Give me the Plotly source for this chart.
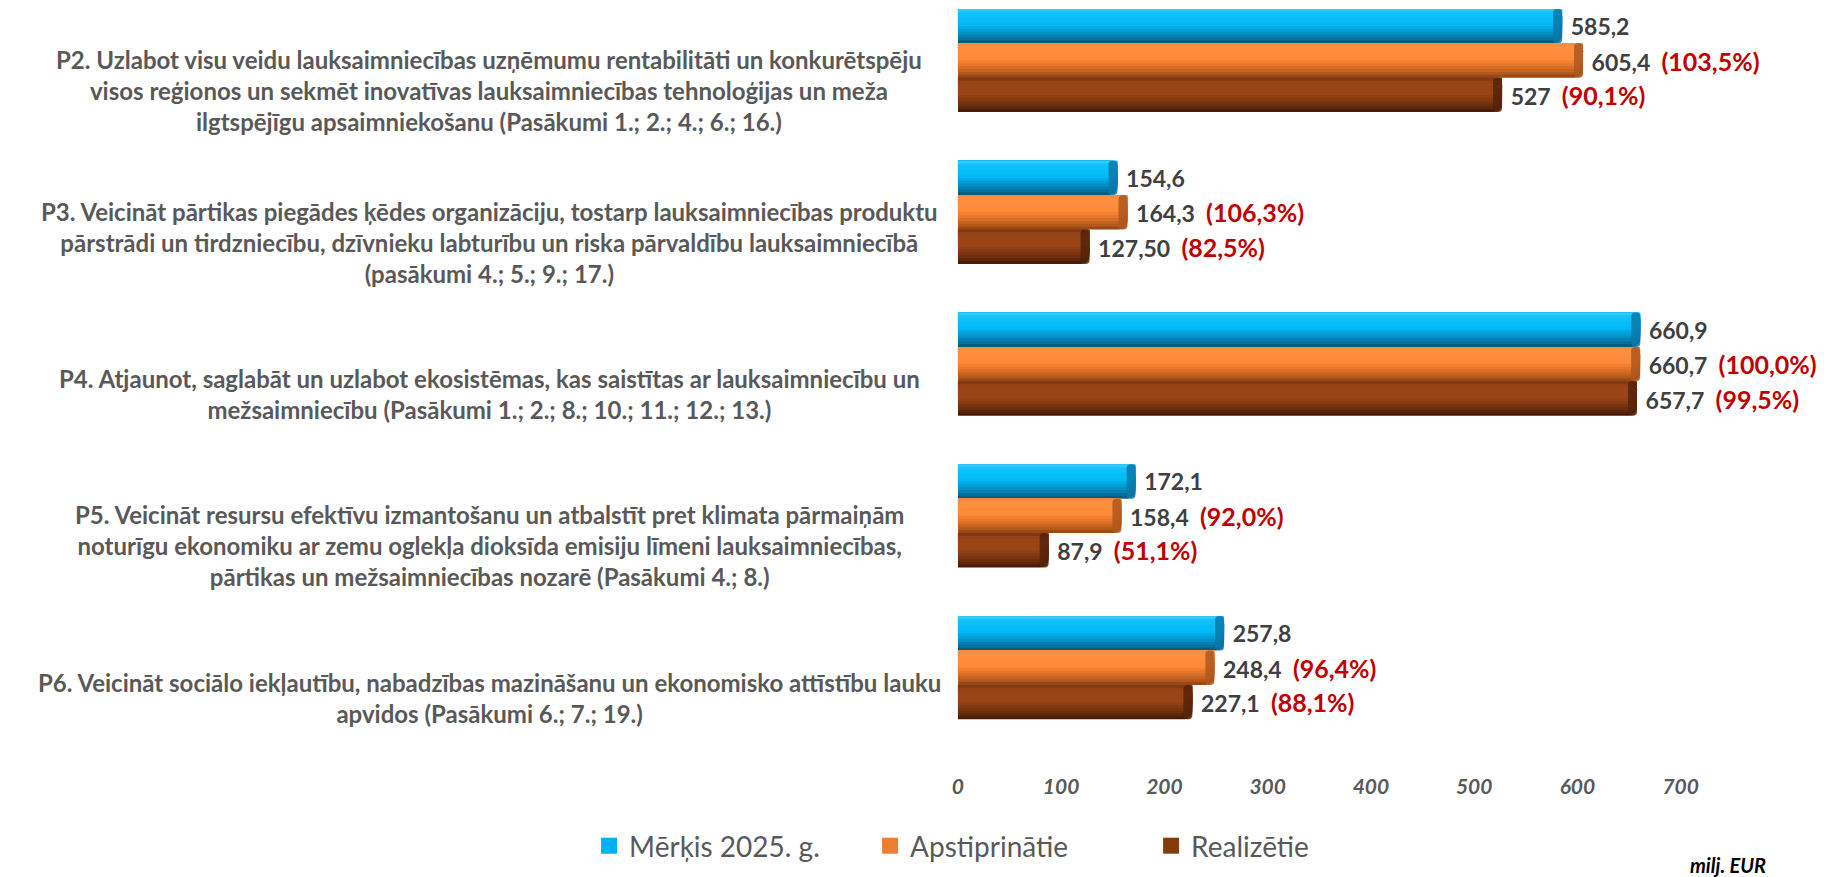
import plotly.graph_objects as go

# ---------------- data ----------------
categories = [
    "P2. Uzlabot visu veidu lauksaimniecības uzņēmumu rentabilitāti un konkurētspēju<br>visos reģionos un sekmēt inovatīvas lauksaimniecības tehnoloģijas un meža<br>ilgtspējīgu apsaimniekošanu (Pasākumi 1.; 2.; 4.; 6.; 16.)",
    "P3. Veicināt pārtikas piegādes ķēdes organizāciju, tostarp lauksaimniecības produktu<br>pārstrādi un tirdzniecību, dzīvnieku labturību un riska pārvaldību lauksaimniecībā<br>(pasākumi 4.; 5.; 9.; 17.)",
    "P4. Atjaunot, saglabāt un uzlabot ekosistēmas, kas saistītas ar lauksaimniecību un<br>mežsaimniecību (Pasākumi 1.; 2.; 8.; 10.; 11.; 12.; 13.)",
    "P5. Veicināt resursu efektīvu izmantošanu un atbalstīt pret klimata pārmaiņām<br>noturīgu ekonomiku ar zemu oglekļa dioksīda emisiju līmeni lauksaimniecības,<br>pārtikas un mežsaimniecības nozarē (Pasākumi 4.; 8.)",
    "P6. Veicināt sociālo iekļautību, nabadzības mazināšanu un ekonomisko attīstību lauku<br>apvidos (Pasākumi 6.; 7.; 19.)",
]
target = [585.2, 154.6, 660.9, 172.1, 257.8]
approved = [605.4, 164.3, 660.7, 158.4, 248.4]
realized = [527.0, 127.5, 657.7, 87.9, 227.1]

target_labels = ["585,2", "154,6", "660,9", "172,1", "257,8"]
approved_labels = ["605,4", "164,3", "660,7", "158,4", "248,4"]
realized_labels = ["527", "127,50", "657,7", "87,9", "227,1"]
approved_pct = ["103,5%", "106,3%", "100,0%", "92,0%", "96,4%"]
realized_pct = ["90,1%", "82,5%", "99,5%", "51,1%", "88,1%"]

series_names = ["Mērķis 2025. g.", "Apstiprinātie", "Realizētie"]
x_ticks = [0, 100, 200, 300, 400, 500, 600, 700]
unit_label = "milj. EUR"

# ---------------- geometry / style ----------------
OFF = 8                      # browser body margin
W, H = 1824 - OFF, 877 - OFF
PLOT_BOTTOM = 772 - OFF
X0_PX = 955 - OFF
PX_PER_UNIT = 1.036
FIRST_CENTER_PX = 60.5 - OFF
CAT_STEP_PX = 151.8

y_top = -FIRST_CENTER_PX / CAT_STEP_PX
y_bot = (PLOT_BOTTOM - FIRST_CENTER_PX) / CAT_STEP_PX
x_max = (W - X0_PX) / PX_PER_UNIT

BAR = 0.2267
BAR_PX = BAR * CAT_STEP_PX
CAP_PX = 9
NBSP = "\u00a0"
RED = "#C00000"
FONT = "Lato"
N_BANDS = 12

flat_colors = ["#00B0F0", "#ED7D31", "#843C0C"]
cap_colors = ["#0A78A8", "#AE571C", "#55220A"]
# vertical gradient stops (0 = top edge, 1 = bottom edge)
gradients = [
    [(0.0, "#49C9F0"), (0.12, "#12C2FA"), (0.45, "#00BBF6"), (0.65, "#0399D4"), (0.85, "#0676A6"), (1.0, "#055273")],
    [(0.0, "#EE8C46"), (0.12, "#FF8F40"), (0.45, "#FF8A38"), (0.65, "#E27429"), (0.85, "#BC5D1D"), (1.0, "#8A4212")],
    [(0.0, "#7A3311"), (0.15, "#984617"), (0.45, "#9A4517"), (0.65, "#823910"), (0.85, "#63290A"), (1.0, "#3E1603")],
]


def hex2rgb(h):
    h = h.lstrip("#")
    return [int(h[i:i + 2], 16) for i in (0, 2, 4)]


def grad_color(stops, t):
    for (t0, c0), (t1, c1) in zip(stops[:-1], stops[1:]):
        if t0 <= t <= t1:
            a = (t - t0) / (t1 - t0) if t1 > t0 else 0
            r0, r1 = hex2rgb(c0), hex2rgb(c1)
            return "rgb(%d,%d,%d)" % tuple(round(r0[k] + (r1[k] - r0[k]) * a) for k in range(3))
    return stops[-1][1]


pos = list(range(len(categories)))
series_vals = [target, approved, realized]


def make_text(labels, pcts):
    out = []
    for i, lab in enumerate(labels):
        t = NBSP + lab
        if pcts is not None:
            t += NBSP * 2 + f"<span style='color:{RED};font-size:25px'>({pcts[i]})</span>"
        out.append(t)
    return out


texts = [
    make_text(target_labels, None),
    make_text(approved_labels, approved_pct),
    make_text(realized_labels, realized_pct),
]

fig = go.Figure()
cap_units = CAP_PX / PX_PER_UNIT
for s, vals in enumerate(series_vals):
    top_offset = (s - 1.5) * BAR
    for k in range(N_BANDS):
        frac = 1 - k / N_BANDS
        col = grad_color(gradients[s], frac - 0.5 / N_BANDS)
        thick_px = frac * BAR_PX
        is_base = k == 0
        fig.add_trace(go.Bar(
            y=pos,
            x=vals,
            orientation="h",
            width=BAR * frac,
            offset=top_offset,
            marker=dict(color=col, line=dict(width=0),
                        cornerradius=max(0, min(8, int(thick_px / 2) - 1))),
            name=series_names[s],
            showlegend=False,
            text=texts[s] if is_base else None,
            textposition="outside" if is_base else "none",
            constraintext="none",
            cliponaxis=False,
            textfont=dict(family=FONT, size=23, color="#404040", weight="bold"),
            hoverinfo="skip",
        ))
    # darker end cap of the cylinder
    fig.add_trace(go.Bar(
        y=pos,
        x=[cap_units] * len(vals),
        base=[v - cap_units for v in vals],
        orientation="h",
        width=BAR,
        offset=top_offset,
        marker=dict(color=cap_colors[s], line=dict(width=0), cornerradius=7, opacity=0.85),
        showlegend=False,
        hoverinfo="skip",
    ))

# legend entries (square swatches)
for s in range(3):
    fig.add_trace(go.Scatter(
        x=[None], y=[None], mode="markers", name=series_names[s],
        marker=dict(symbol="square", size=16, color=flat_colors[s]),
        showlegend=True,
    ))

annotations = []
for i, cat in enumerate(categories):
    annotations.append(dict(
        x=(485 - OFF) / W, xref="paper", xanchor="center",
        y=pos[i], yref="y", yanchor="middle", yshift=-30,
        text=cat, showarrow=False, align="center",
        font=dict(family=FONT, size=24, color="#595959", weight="bold"),
    ))
annotations.append(dict(
    x=(1768 - OFF) / W, xref="paper", xanchor="right",
    y=(PLOT_BOTTOM - (865 - OFF)) / PLOT_BOTTOM, yref="paper", yanchor="middle",
    text=unit_label, showarrow=False,
    font=dict(family=FONT, size=20, color="#000000", weight="bold", style="italic"),
))

fig.update_layout(
    width=W, height=H,
    margin=dict(l=0, r=0, t=0, b=H - PLOT_BOTTOM, pad=0),
    barmode="overlay",
    plot_bgcolor="white", paper_bgcolor="white",
    xaxis=dict(
        domain=[X0_PX / W, 1], range=[0, x_max],
        tickvals=x_ticks, ticktext=[str(v) for v in x_ticks],
        showgrid=False, zeroline=False, showline=False, ticks="",
        tickfont=dict(family=FONT, size=21, color="#595959", weight="bold", style="italic"),
    ),
    yaxis=dict(
        range=[y_bot, y_top], showticklabels=False, showgrid=False,
        zeroline=False, showline=False, ticks="",
    ),
    legend=dict(
        orientation="h", x=(585 - OFF) / W, xanchor="left",
        y=(PLOT_BOTTOM - (846 - OFF)) / PLOT_BOTTOM, yanchor="middle",
        font=dict(family=FONT, size=28, color="#595959"),
        bgcolor="rgba(0,0,0,0)", entrywidth=236, entrywidthmode="pixels",
        itemsizing="trace",
    ),
    annotations=annotations,
    showlegend=True,
)

fig.write_html("out.html")
